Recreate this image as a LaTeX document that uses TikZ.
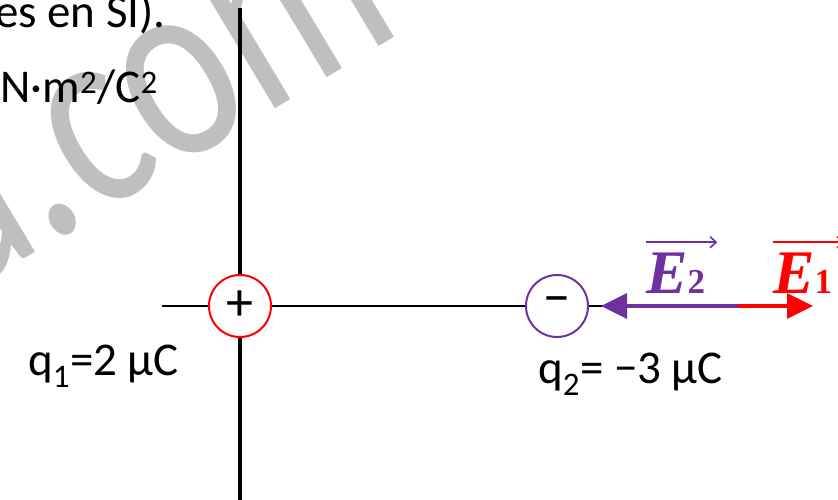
\documentclass[tikz,border=0pt]{standalone}
\usepackage{fontspec}
\setmainfont{Carlito}
\newfontfamily\vecfont{Liberation Serif}
\usetikzlibrary{positioning,arrows.meta}

\begin{document}
\begin{tikzpicture}[
  x=1pt, y=-1pt,
  font=\fontsize{47}{54}\selectfont,
  lbl/.style={inner sep=0pt, anchor=base west, text=black},
  charge/.style={circle, draw=#1, line width=2pt, fill=white,
    minimum size=62pt, inner sep=0pt, font=\fontsize{54}{60}\selectfont},
  field/.style={line width=3.5pt, draw=#1, -{Triangle[length=26pt,width=25pt]}},
  vlbl/.style={inner sep=0pt, anchor=base west, text=#1,
    font=\vecfont\bfseries\itshape\fontsize{62}{70}\selectfont},
  overvec/.style={line width=1.6pt, draw=#1, -{Straight Barb[length=6pt,width=11pt]}}
]

% ---- palette ----
\definecolor{cWm}{HTML}{BFBFBF}
\definecolor{cPos}{HTML}{FF0000}
\definecolor{cNeg}{HTML}{7030A0}

\useasboundingbox (0,0) rectangle (838,500);

% ================= watermark =================
\node[anchor=base east, text=cWm, inner sep=0pt, rotate=31, xscale=0.77,
  font=\fontsize{272}{280}\selectfont] (wm) at (406,30) {u.com};

% ================= text at top =================
\node[lbl, anchor=base east] (t1) at (166,28)  {es en SI).};
\node[lbl, anchor=base east] (t2) at (158,103) {N·m\textsuperscript{2}/C\textsuperscript{2}};

% ================= plate and axis =================
\coordinate (plT) at (240,8);
\coordinate (plB) at (240,500);
\coordinate (axL) at (162,306);
\coordinate (P)   at (738,306);
\coordinate (E1tip) at (813,306);
\draw[line width=4.5pt] (plT) -- (plB);
\draw[line width=1.2pt] (axL) -- (P);

% ================= charges =================
\node[charge=cPos] (q1) at (240,306) {+};
\node[charge=cNeg] (q2) at (557,306) {−};
\node[lbl] (l1) at (28,375)  {q\textsubscript{1}=2 µC};
\node[lbl] (l2) at (538,383) {q\textsubscript{2}= −3 µC};

% ================= fields =================
\draw[field=cNeg, shorten >=12pt] (P) -- (q2.east);
\draw[field=cPos] (P) -- (E1tip);

\node[vlbl=cNeg] (e2) at (646,293) {E\kern0pt{\upshape\fontsize{35}{38}\selectfont 2}};
\node[vlbl=cPos] (e1) at (773,293) {E\kern0pt{\upshape\fontsize{35}{38}\selectfont 1}};
\draw[overvec=cNeg] ([yshift=10pt]e2.north west) -- ([xshift=12pt,yshift=10pt]e2.north east);
\draw[overvec=cPos] ([yshift=10pt]e1.north west) -- ([xshift=12pt,yshift=10pt]e1.north east);

\end{tikzpicture}
\end{document}
